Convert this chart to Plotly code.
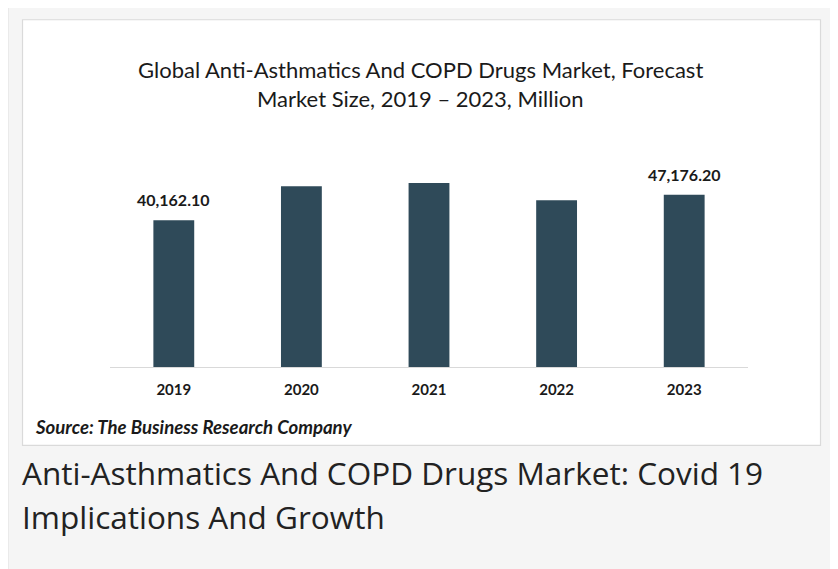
import plotly.graph_objects as go

# ---- data ----
years = ["2019", "2020", "2021", "2022", "2023"]
market_size = [40162.10, 49490.0, 50390.0, 45660.0, 47176.20]
show_label = [True, False, False, False, True]

title_lines = ["Global Anti-Asthmatics And COPD Drugs Market, Forecast",
               "Market Size, 2019 \u2013 2023, Million"]
source_text = "Source: The Business Research Company"
caption_lines = ["Anti-Asthmatics And COPD Drugs Market: Covid 19",
                 "Implications And Growth"]

# ---- layout geometry (pixels, page has an 8px body margin) ----
OFF = 8
W, H = 838 - OFF, 569 - OFF
L = 109.6 - OFF
R = W - (748.4 - OFF)
T = 140 - OFF
B = H - (367.5 - OFF)
PW, PH = W - L - R, H - T - B

def px(x):
    return (x - OFF - L) / PW

def py(y):
    return (H - B - (y - OFF)) / PH

bar_color = "#2f4a59"

fig = go.Figure()
fig.add_trace(go.Bar(
    x=years, y=market_size, marker=dict(color=bar_color, line=dict(width=0)),
    width=0.32, hoverinfo="skip",
))

shapes = [
    # outer gray page
    dict(type="rect", xref="paper", yref="paper", x0=px(7.5), x1=px(832.5), y0=py(5.5), y1=py(590),
         fillcolor="#f5f5f5", line=dict(color="#e4e4e4", width=1.2), layer="below"),
    # inner white chart card
    dict(type="rect", xref="paper", yref="paper", x0=px(22), x1=px(821), y0=py(19.5), y1=py(446),
         fillcolor="#ffffff", line=dict(color="#dadada", width=1.2), layer="below"),
]

annotations = []
for i, line in enumerate(title_lines):
    annotations.append(dict(
        text=line, xref="paper", yref="paper", x=px(420), y=py([69, 98][i]),
        xanchor="center", yanchor="middle", showarrow=False,
        font=dict(family="Lato", size=22, color="#1a1a1a"),
    ))

for i, (v, s) in enumerate(zip(market_size, show_label)):
    if s:
        annotations.append(dict(
            text=f"<b>{v:,.2f}</b>", x=i, y=v, xref="x", yref="y",
            xanchor="center", yanchor="bottom", yshift=9, showarrow=False,
            font=dict(family="Lato", size=16, color="#1a1a1a"),
        ))

annotations.append(dict(
    text=f"<b><i>{source_text}</i></b>", xref="paper", yref="paper",
    x=px(33), y=py(428), xanchor="left", yanchor="middle", showarrow=False,
    font=dict(family="Lato", size=18.6, color="#1a1a1a"),
))

for i, line in enumerate(caption_lines):
    annotations.append(dict(
        text=line, xref="paper", yref="paper", x=px(19), y=py([473, 517][i]),
        xanchor="left", yanchor="middle", showarrow=False,
        font=dict(family="Open Sans", size=31.5, color="#222222"),
    ))

fig.update_layout(
    width=W, height=H, autosize=False,
    margin=dict(l=L, r=R, t=T, b=B, pad=0),
    paper_bgcolor="#ffffff", plot_bgcolor="rgba(0,0,0,0)",
    showlegend=False, shapes=shapes, annotations=annotations,
    xaxis=dict(
        type="category", showline=True, linecolor="#d9d9d9", linewidth=1.2,
        showgrid=False, zeroline=False, ticks="outside", ticklen=9,
        tickcolor="rgba(0,0,0,0)",
        tickfont=dict(family="Lato", size=15, color="#1a1a1a"),
        tickvals=years, ticktext=[f"<b>{y}</b>" for y in years],
        range=[-0.5, 4.5],
    ),
    yaxis=dict(range=[0, PH * 273.1], showticklabels=False, showline=False,
               ticks="", showgrid=False, zeroline=False),
)

fig.write_html("out.html")
